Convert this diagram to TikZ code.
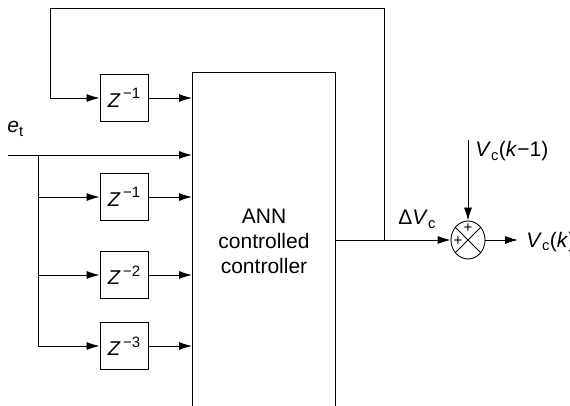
\documentclass[tikz,border=0pt]{standalone}
\usepackage{fontspec}
\setmainfont{Liberation Sans}
\usetikzlibrary{arrows.meta,shapes.geometric,calc}
\newcommand{\zsup}[1]{\textit{Z}\raisebox{0.42em}{\fontsize{15}{15}\selectfont\,#1}}
\begin{document}
\begin{tikzpicture}[x=1pt,y=-1pt,line width=0.9pt,
  lbl/.style={font=\fontsize{21}{25}\selectfont, inner sep=0pt},
  zbox/.style={draw, minimum width=48pt, minimum height=47pt, inner sep=0pt, font=\fontsize{20}{24}\selectfont},
  arr/.style={-{Latex[length=13pt,width=8pt]}},
  pl/.style={font=\fontsize{15}{15}\selectfont, inner sep=0pt}]
\useasboundingbox (0,0) rectangle (570,406);
% big controller box (open at bottom)
\node[minimum width=143pt, minimum height=340pt, inner sep=0pt, anchor=north west] (ann) at (192,72) {};
\draw (ann.south west) -- (ann.north west) -- (ann.north east) -- (ann.south east);
\node[align=center, font=\fontsize{21}{25}\selectfont] (annt) at (264,241) {ANN\\controlled\\controller};
% delay boxes
\node[zbox] (z1) at (124,98) {\zsup{−1}};
\node[zbox] (z2) at (124,197) {\zsup{−1}};
\node[zbox] (z3) at (124,275) {\zsup{−2}};
\node[zbox] (z4) at (124,346) {\zsup{−3}};
% e_t input
\coordinate (ein) at (8,155);
\coordinate (br) at (38,155);
\node[lbl, anchor=base west] (et) at (7,133) {\textit{e}\textsubscript{t}};
\draw[arr] (ein) -- (ein -| ann.west);
\draw[arr] (br) |- (z2.west);
\draw[arr] (br) |- (z3.west);
\draw[arr] (br) |- (z4.west);
% outputs of delays
\draw[arr] (z1.east) -- (z1.east -| ann.west);
\draw[arr] (z2.east) -- (z2.east -| ann.west);
\draw[arr] (z3.east) -- (z3.east -| ann.west);
\draw[arr] (z4.east) -- (z4.east -| ann.west);
% summing junction
\node[ellipse, draw, minimum width=34pt, minimum height=38pt, inner sep=0pt] (sum) at (468,240) {};
\draw (sum.135) -- (sum.-45);
\draw (sum.45) -- (sum.-135);
\node[pl] (p1) at (468,228) {+};
\node[pl] (p2) at (458,241) {+};
% controller output and feedback
\coordinate (j) at (384,240);
\coordinate (tr) at (384,8);
\coordinate (tl) at (50,8);
\draw[arr] (ann.east |- j) -- (sum.west);
\draw[arr] (j) -- (tr) -- (tl) |- (z1.west);
\node[lbl, anchor=base west] (dv) at (398,225) {Δ\textit{V}\textsubscript{c}};
% V_c(k-1) input
\coordinate (vin) at (468,140);
\draw[arr] (vin) -- (sum.north);
\node[lbl, anchor=base west] (vl) at (475,157) {\textit{V}\textsubscript{c}(\textit{k}−1)};
% output
\coordinate (vout) at (518,240);
\draw[arr] (sum.east) -- (vout);
\node[lbl, anchor=base west] (vo) at (526,247) {\textit{V}\textsubscript{c}(\textit{k})};
\end{tikzpicture}
\end{document}
